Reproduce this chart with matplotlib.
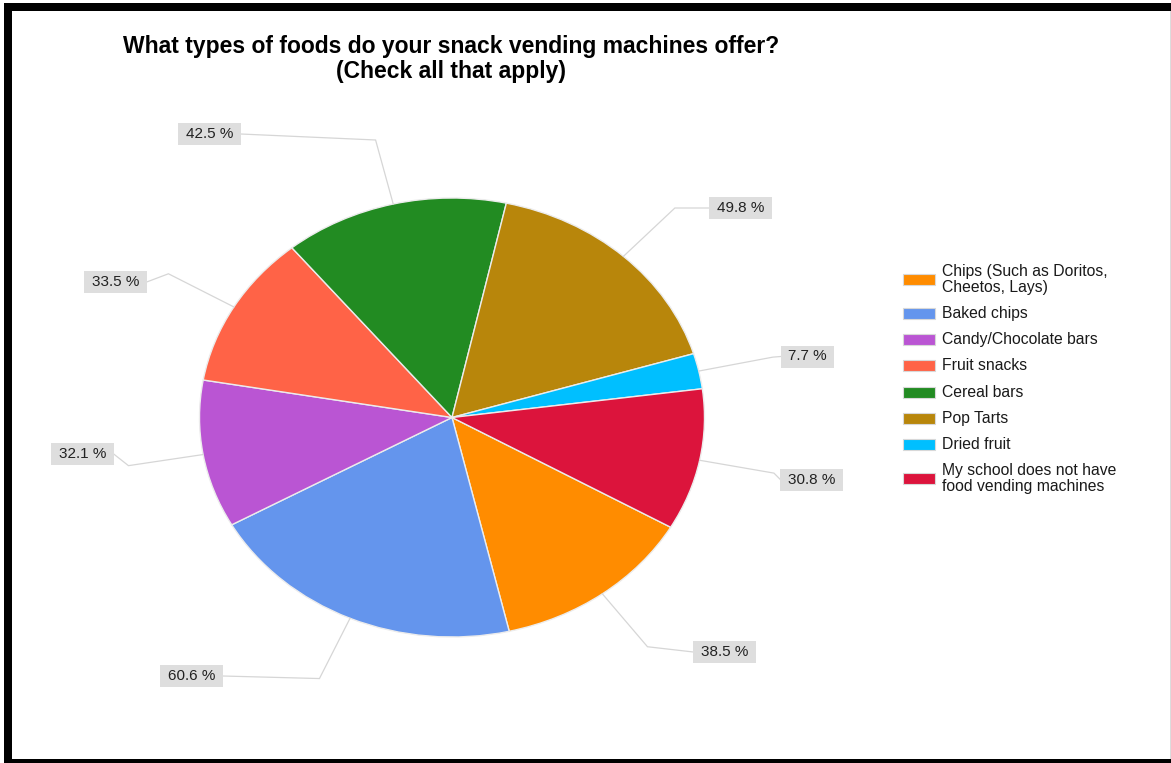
import matplotlib
matplotlib.use("Agg")
import matplotlib.pyplot as plt
from matplotlib.patches import Rectangle
import numpy as np

plt.rcParams["font.family"] = ["Liberation Sans", "DejaVu Sans"]

title = "What types of foods do your snack vending machines offer?\n(Check all that apply)"
categories = [
    "Chips (Such as Doritos,\nCheetos, Lays)",
    "Baked chips",
    "Candy/Chocolate bars",
    "Fruit snacks",
    "Cereal bars",
    "Pop Tarts",
    "Dried fruit",
    "My school does not have\nfood vending machines",
]
percents = [38.5, 60.6, 32.1, 33.5, 42.5, 49.8, 7.7, 30.8]
colors = ["#FF8C00", "#6495ED", "#BA55D3", "#FF6347",
          "#228B22", "#B8860B", "#00BFFF", "#DC143C"]

# label box centres in pixel space (x from left, y from top)
label_centers = [(724.5, 652), (191.5, 676), (82.5, 454), (115.5, 282),
                 (209.5, 134), (740.5, 208), (807.5, 356.5), (811.5, 479.5)]

W, H = 1171, 763
fig = plt.figure(figsize=(W / 100, H / 100), dpi=100)
fig.patch.set_facecolor("white")
ax = fig.add_axes([0, 0, 1, 1])

# elliptical pie: centre and radii in pixels
CX, CY, RX, RY = 452, 417.5, 252.5, 219.5


def to_data(x, y):
    return (x - CX) / RX, (CY - y) / RY


START = -30
wedges, _ = ax.pie(percents, colors=colors, startangle=START, counterclock=False,
                   radius=1.0,
                   wedgeprops=dict(edgecolor="#ececec", linewidth=1.0))
ax.set_aspect("auto")
ax.set_xlim(-CX / RX, (W - CX) / RX)
ax.set_ylim((CY - H) / RY, CY / RY)
ax.axis("off")

# percentage labels with leader lines
total = sum(percents)
fig.canvas.draw()
renderer = fig.canvas.get_renderer()
angle = START
for val, (bx, by) in zip(percents, label_centers):
    span = val / total * 360.0
    mid = np.deg2rad(angle - span / 2)
    angle -= span
    txt = ax.text(*to_data(bx, by), f"{val:.1f} %", ha="center", va="center",
                  fontsize=11, color="#222222", zorder=5)
    tw = txt.get_window_extent(renderer).width
    bw, bh = tw + 15, 22
    x0, y0 = to_data(bx - bw / 2, by + bh / 2)
    ax.add_patch(Rectangle((x0, y0), bw / RX, bh / RY, facecolor="#DEDEDE",
                           edgecolor="none", zorder=4))
    ex, ey = np.cos(mid), np.sin(mid)
    kx, ky = 1.3 * np.cos(mid), 1.3 * np.sin(mid)
    side = bx - bw / 2 if np.cos(mid) > 0 else bx + bw / 2
    lx, ly = to_data(side, by)
    ax.plot([ex, kx, lx], [ey, ky, ly], color="#D6D6D6", lw=0.9, zorder=3,
            solid_joinstyle="miter")

# legend
def fx(x):
    return x / W


def fy(y):
    return 1 - y / H


LINE = 7.5
cy = 279.5
prev_lines = None
for lab, col in zip(categories, colors):
    n = lab.count("\n") + 1
    if prev_lines is not None:
        cy += 26.3 + LINE * (prev_lines - 1) + LINE * (n - 1)
    fig.patches.append(Rectangle((fx(903), fy(cy + 5.5)), 32 / W, 11 / H,
                                 transform=fig.transFigure, facecolor=col,
                                 edgecolor="#d8d8d8", linewidth=0.8))
    fig.text(fx(942), fy(cy), lab, ha="left", va="center", fontsize=11.3,
             color="#1a1a1a", linespacing=1.05)
    prev_lines = n

# title
fig.text(fx(451), fy(59), title, ha="center", va="center", fontsize=16.5,
         fontweight="bold", color="black", linespacing=1.08)

# frame around the chart
def bar(x0, y0, x1, y1, color):
    fig.patches.append(Rectangle((fx(x0), fy(y1)), (x1 - x0) / W, (y1 - y0) / H,
                                 transform=fig.transFigure, facecolor=color,
                                 edgecolor="none", zorder=10))


bar(4, 3, W, 11, "black")
bar(4, 3, 12, H, "black")
bar(4, 759, W, H, "black")
bar(W - 1.5, 11, W, 759, "#dcdcdc")

fig.savefig("out.png", dpi=100, facecolor="white")
